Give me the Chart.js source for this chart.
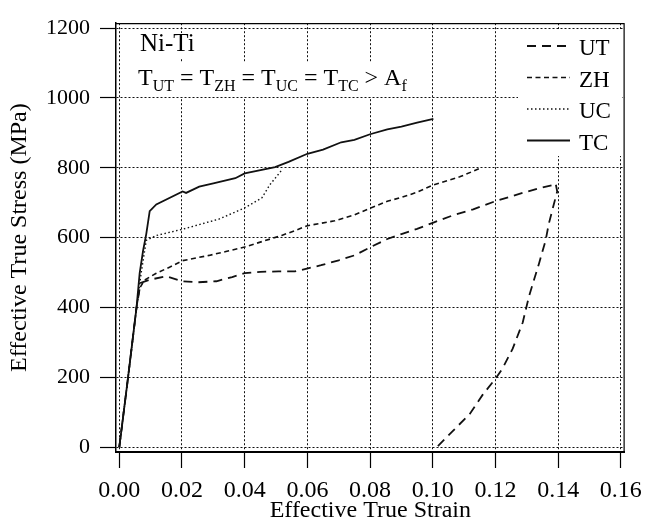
<!DOCTYPE html>
<html><head><meta charset="utf-8">
<script src="https://cdn.jsdelivr.net/npm/chart.js@4/dist/chart.umd.min.js"></script>
<style>html,body{margin:0;padding:0;background:#fff}</style>
</head><body>
<canvas id="c" width="650" height="525"></canvas>
<script>
// ---------- data ----------
const seriesLabels = ['UT', 'ZH', 'UC', 'TC'];

const utStrain = [0, 0.0028, 0.0055, 0.0068, 0.010, 0.015, 0.020, 0.025, 0.031, 0.036, 0.040, 0.045, 0.0508, 0.056, 0.0644, 0.070, 0.075, 0.0802, 0.0855, 0.090, 0.095, 0.1002, 0.1065, 0.1129, 0.1202, 0.1287, 0.1343, 0.1386, 0.1392, 0.1397, 0.1386, 0.137, 0.136, 0.1339, 0.1307, 0.1287, 0.1255, 0.1223, 0.1202, 0.116, 0.1118, 0.1066, 0.1013];
const utStress = [0, 200, 400, 470, 480, 489, 475, 472, 475, 487, 498, 502, 503, 503, 521, 535, 549, 573, 596, 610, 625, 643, 664, 681, 705, 728, 742, 751, 755, 732, 695, 639, 592, 526, 432, 357, 282, 226, 198, 151, 95, 48, 0];

const zhStrain = [0, 0.0028, 0.0055, 0.0065, 0.008, 0.0118, 0.016, 0.0202, 0.0286, 0.034, 0.040, 0.046, 0.0518, 0.056, 0.060, 0.0687, 0.075, 0.0802, 0.0855, 0.090, 0.095, 0.1002, 0.1086, 0.1155];
const zhStress = [0, 200, 400, 455, 478, 498, 515, 534, 549, 560, 573, 590, 606, 620, 634, 648, 665, 685, 704, 715, 730, 751, 774, 800];

const ucStrain = [0, 0.0028, 0.0055, 0.007, 0.0086, 0.0118, 0.0202, 0.0318, 0.040, 0.0455, 0.048, 0.0518];
const ucStress = [0, 200, 400, 500, 592, 606, 624, 653, 685, 714, 751, 793];

const tcStrain = [0, 0.0028, 0.0055, 0.0065, 0.0076, 0.0086, 0.0097, 0.0118, 0.0202, 0.0213, 0.0255, 0.030, 0.037, 0.040, 0.0497, 0.054, 0.060, 0.065, 0.0708, 0.075, 0.080, 0.0855, 0.090, 0.095, 0.1002];
const tcStress = [0, 200, 400, 498, 563, 610, 676, 695, 732, 728, 746, 755, 770, 784, 802, 817, 840, 852, 873, 880, 896, 910, 918, 929, 940];

const xTicks = [0, 0.02, 0.04, 0.06, 0.08, 0.10, 0.12, 0.14, 0.16];
const xTickLabels = ['0.00', '0.02', '0.04', '0.06', '0.08', '0.10', '0.12', '0.14', '0.16'];
const yTicks = [0, 200, 400, 600, 800, 1000, 1200];
const yTickLabels = ['0', '200', '400', '600', '800', '1000', '1200'];

const xTitle = 'Effective True Strain';
const yTitle = 'Effective True Stress (MPa)';
const noteTitle = 'Ni-Ti';
const noteEquation = [
  {t: 'T'}, {t: 'UT', sub: true}, {t: ' = '},
  {t: 'T'}, {t: 'ZH', sub: true}, {t: ' = '},
  {t: 'T'}, {t: 'UC', sub: true}, {t: ' = '},
  {t: 'T'}, {t: 'TC', sub: true}, {t: ' > '},
  {t: 'A'}, {t: 'f', sub: true}
];

// ---------- build ----------
const FONT = '"Liberation Serif", "Times New Roman", serif';
const pts = (xs, ys) => xs.map((x, i) => ({x: x, y: ys[i]}));
const styles = [
  {dash: [9, 6], width: 1.8},
  {dash: [5, 3.5], width: 1.6},
  {dash: [1.5, 2.5], width: 1.4},
  {dash: [], width: 1.8}
];
const seriesData = [pts(utStrain, utStress), pts(zhStrain, zhStress), pts(ucStrain, ucStress), pts(tcStrain, tcStress)];

const datasets = seriesLabels.map((lab, i) => ({
  label: lab,
  data: seriesData[i],
  showLine: true,
  borderColor: '#111',
  borderWidth: styles[i].width,
  borderDash: styles[i].dash,
  pointRadius: 0,
  tension: 0,
  fill: false
}));

const decor = {
  id: 'decor',
  beforeDatasetsDraw(chart) {
    const ctx = chart.ctx;
    ctx.save();
    // white boxes behind annotation text and legend
    ctx.fillStyle = '#fff';
    ctx.fillRect(136, 33, 74, 25);
    ctx.fillRect(136, 63, 270, 34);
    ctx.fillRect(518, 29, 104, 127);
    ctx.fillStyle = '#000';
    ctx.textBaseline = 'alphabetic';
    ctx.textAlign = 'left';
    ctx.font = '25px ' + FONT;
    ctx.fillText(noteTitle, 140, 51);
    let x = 138;
    noteEquation.forEach(p => {
      ctx.font = (p.sub ? '16px ' : '24px ') + FONT;
      ctx.fillText(p.t, x, p.sub ? 91 : 85);
      x += ctx.measureText(p.t).width;
    });
    // legend
    chart.data.datasets.forEach((ds, i) => {
      const base = 55 + i * 31.5;
      ctx.beginPath();
      ctx.setLineDash(ds.borderDash);
      ctx.lineWidth = ds.borderWidth;
      ctx.strokeStyle = '#111';
      ctx.moveTo(527, base - 9);
      ctx.lineTo(570, base - 9);
      ctx.stroke();
      ctx.setLineDash([]);
      ctx.font = '23px ' + FONT;
      ctx.fillText(ds.label, 579, base);
    });
    ctx.restore();
  },
  afterDraw(chart) {
    const a = chart.chartArea, ctx = chart.ctx;
    ctx.save();
    ctx.strokeStyle = '#000';
    ctx.lineWidth = 1.2;
    ctx.beginPath();
    ctx.moveTo(a.left, a.top + 0.5);
    ctx.lineTo(a.right, a.top + 0.5);
    ctx.moveTo(a.right - 0.5, a.top);
    ctx.lineTo(a.right - 0.5, a.bottom);
    ctx.stroke();
    ctx.restore();
  }
};

new Chart(document.getElementById('c'), {
  type: 'scatter',
  data: {datasets: datasets},
  plugins: [decor],
  options: {
    responsive: false,
    animation: false,
    devicePixelRatio: 1,
    layout: {padding: {top: 15, right: 20, left: 0, bottom: 0}},
    plugins: {legend: {display: false}, tooltip: {enabled: false}},
    scales: {
      x: {
        type: 'linear',
        min: -0.00105,
        max: 0.1612,
        afterBuildTicks: s => { s.ticks = xTicks.map(v => ({value: v})); },
        afterFit: s => { s.height = 73; },
        ticks: {
          autoSkip: false, maxRotation: 0, color: '#000', padding: 8,
          font: {family: FONT, size: 24},
          callback: (v) => xTickLabels[xTicks.indexOf(v)] ?? ''
        },
        grid: {
          color: '#111', lineWidth: 1, drawTicks: true,
          tickLength: 16, tickColor: '#000', tickWidth: 1.2, tickBorderDash: []
        },
        border: {display: true, color: '#000', width: 2, dash: [2, 2]},
        title: {display: true, text: xTitle, color: '#000', font: {family: FONT, size: 24}, padding: {top: 0, bottom: 0}}
      },
      y: {
        type: 'linear',
        min: -14,
        max: 1214,
        afterBuildTicks: s => { s.ticks = yTicks.map(v => ({value: v})); },
        afterFit: s => { s.width = 116; },
        ticks: {
          autoSkip: false, color: '#000', padding: 10,
          font: {family: FONT, size: 22},
          callback: (v) => yTickLabels[yTicks.indexOf(v)] ?? ''
        },
        grid: {
          color: '#111', lineWidth: 1, drawTicks: true,
          tickLength: 16, tickColor: '#000', tickWidth: 1.2, tickBorderDash: []
        },
        border: {display: true, color: '#000', width: 1.5, dash: [2, 2]},
        title: {display: true, text: yTitle, color: '#000', font: {family: FONT, size: 24}, padding: {top: 5, bottom: 0}}
      }
    }
  }
});
</script>
</body></html>
